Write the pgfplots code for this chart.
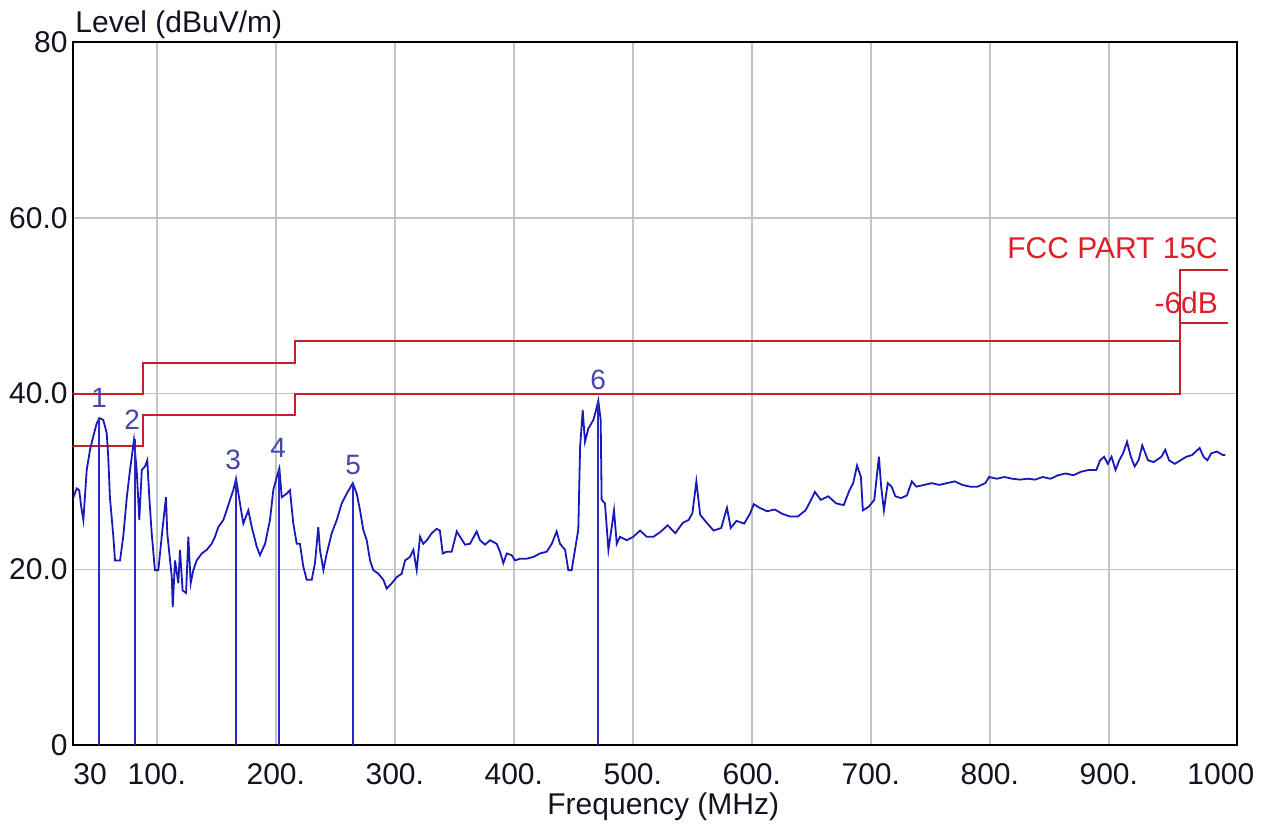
\documentclass[border=0pt]{standalone}
\usepackage{pgfplots}
\pgfplotsset{compat=1.18}
\usepackage{fontspec}
\setmainfont{Liberation Sans}
\definecolor{trace}{RGB}{25,25,185}
\definecolor{mk}{RGB}{40,40,200}
\definecolor{lim}{RGB}{195,35,40}
\definecolor{limtxt}{RGB}{225,30,40}
\definecolor{txt}{RGB}{18,18,32}
\definecolor{mklbl}{RGB}{70,70,170}
\definecolor{gridc}{RGB}{195,195,195}
\begin{document}
\begin{tikzpicture}
\path[use as bounding box] (-36.75pt,-40pt) rectangle (598.75pt,372.5pt);
\begin{axis}[
  at={(0,0)}, anchor=south west,
  scale only axis, width=581.75pt, height=351.5pt,
  xmin=30, xmax=1007.7, ymin=0, ymax=80,
  xtick={100,200,300,400,500,600,700,800,900},
  xticklabels={100.,200.,300.,400.,500.,600.,700.,800.,900.},
  extra x ticks={30,1000},
  extra x tick labels={\makebox[0pt][l]{30},\makebox[0pt]{1000\hspace{7pt}}},
  extra x tick style={grid=none},
  ytick={0,20,40,60,80},
  yticklabels={0,20.0,40.0,60.0,80},
  grid=major, major grid style={gridc, line width=0.75pt},
  major tick length=0pt,
  axis line style={black, line width=1pt},
  tick label style={font=\fontsize{15}{18}\selectfont, text=txt},
  xticklabel style={anchor=base, yshift=-20pt},
  yticklabel style={anchor=east, inner sep=0pt, xshift=-2.75pt},
  clip=false,
]
% limit lines
\addplot[lim, line width=1pt, const plot] coordinates {(30,40) (88,43.5) (216,46) (960,54) (1000,54)};
\addplot[lim, line width=1pt, const plot] coordinates {(30,34) (88,37.5) (216,40) (960,48) (1000,48)};
% trace
\addplot[trace, line width=0.9pt] coordinates {
(30,28.2) (32.7,29.2) (34.8,29.0) (36.6,27.0) (38.3,25.6) (41.1,31.3) (43.9,33.6) (46.6,35.1) (49.5,36.6) (51.7,37.2) (55.0,37.0) (57.9,35.5) (59.2,32.8) (60.6,28.2) (63.5,23.7) (64.9,21.0) (69.1,21.0) (71.8,23.7) (74.8,28.2) (77.5,31.3) (80.8,34.7) (83.1,31.3) (85.3,25.6) (87.4,31.3) (90.1,31.7) (92.0,32.4) (93.7,28.2) (95.7,24.1) (98.4,19.9) (101.3,19.9) (104.1,23.7) (107.7,28.2) (108.8,24.1) (112.6,19.1) (113.4,15.7) (115.3,21.0) (118.1,18.4) (119.5,22.2) (121.7,17.6) (124.6,17.3) (126.5,23.7) (128.5,18.4) (130.7,19.9) (133.5,21.0) (137.8,21.8) (141.9,22.2) (146.1,22.9) (148.9,23.7) (151.7,24.8) (155.9,25.6) (158.7,26.7) (161.5,27.9) (164.3,29.0) (166.6,30.3) (169.9,27.5) (172.7,25.2) (176.9,26.7) (179.8,24.8) (183.9,22.6) (186.7,21.6) (191.0,22.9) (195.1,25.6) (197.9,29.0) (200.8,30.5) (203.0,31.5) (205.0,28.2) (209.1,28.6) (211.9,29.0) (214.7,25.2) (217.6,22.9) (220.3,22.9) (223.1,20.3) (226.0,18.8) (230.2,18.8) (232.9,20.7) (235.7,24.8) (237.1,22.2) (240.0,19.9) (242.8,21.8) (247.0,24.1) (251.2,25.6) (255.4,27.5) (259.6,28.6) (264.7,29.8) (268.0,28.6) (270.8,26.7) (273.5,24.5) (276.4,23.3) (279.2,21.0) (281.9,19.9) (286.1,19.5) (290.4,18.8) (293.2,17.8) (297.4,18.4) (301.6,19.1) (305.8,19.5) (308.6,21.0) (312.7,21.4) (315.6,22.2) (318.4,19.9) (321.2,23.7) (323.9,22.9) (326.9,23.3) (331.0,24.1) (335.2,24.6) (337.9,24.4) (340.3,21.8) (343.6,22.0) (347.8,22.0) (352.1,24.3) (354.8,23.7) (359.0,22.8) (363.2,22.9) (368.8,24.3) (371.6,23.3) (375.8,22.8) (380.0,23.3) (385.6,22.9) (388.4,22.0) (391.2,20.7) (394.1,21.8) (398.2,21.6) (401.0,21.0) (405.2,21.2) (410.8,21.2) (416.4,21.4) (422.0,21.8) (427.7,22.0) (431.9,22.9) (436.0,24.3) (438.8,22.9) (443.1,22.2) (445.8,19.9) (448.6,19.9) (451.4,22.2) (454.2,24.5) (455.7,33.9) (457.9,38.1) (459.8,34.5) (462.6,36.0) (466.9,37.0) (469.1,38.1) (471.0,39.2) (473.0,37.0) (473.8,27.9) (476.6,27.5) (479.5,22.2) (482.3,24.8) (484.2,26.7) (486.5,22.9) (489.2,23.7) (494.9,23.3) (500.4,23.7) (506.1,24.4) (511.7,23.7) (517.3,23.7)
(522.8,24.2) (529.3,25.0) (535.7,24.1) (542.1,25.3) (546.9,25.6) (550.1,26.4) (553.4,30.0) (556.6,26.2) (561.4,25.4) (567.9,24.4) (574.3,24.7) (579.1,27.0) (582.3,24.7) (587.1,25.5) (593.6,25.2) (598.4,26.3) (601.6,27.4) (606.5,27.0) (612.8,26.6) (619.3,26.8) (625.7,26.3) (632.2,26.0) (638.6,26.0) (645.1,26.7) (649.8,27.9) (653.0,28.8) (657.9,27.9) (664.3,28.3) (670.8,27.5) (677.2,27.3) (682.1,29.0) (685.2,29.8) (688.4,31.8) (691.7,30.5) (693.3,26.7) (698.1,27.1) (702.9,27.9) (706.8,32.8) (708.7,29.4) (711.0,26.7) (714.2,29.8) (717.5,29.4) (720.6,28.3) (725.4,28.1) (730.3,28.4) (734.5,30.0) (738.3,29.4) (744.8,29.6) (751.2,29.8) (757.6,29.6) (764.0,29.8) (770.5,30.0) (776.9,29.6) (783.4,29.4) (789.7,29.4) (796.2,29.8) (799.4,30.5) (805.9,30.3) (812.3,30.5) (818.8,30.3) (825.2,30.2) (831.6,30.3) (838.0,30.2) (844.5,30.5) (850.9,30.3) (857.4,30.7) (863.7,30.9) (870.2,30.7) (876.6,31.1) (883.2,31.3) (889.5,31.3) (892.7,32.4) (896.0,32.8) (899.1,32.0) (902.3,32.8) (905.6,31.3) (908.8,32.4) (912.0,33.2) (915.3,34.5) (918.5,32.8) (921.7,31.7) (925.0,32.4) (928.1,34.1) (932.9,32.4) (937.7,32.2) (944.2,32.8) (947.4,33.6) (950.6,32.4) (955.4,32.0) (960.3,32.4) (965.1,32.8) (970.0,33.0) (976.3,33.8) (979.6,32.8) (982.8,32.4) (986.1,33.2) (990.8,33.4) (995.7,33.0) (998.0,33.0)
};
% markers
\addplot[ycomb, mk, line width=1pt] coordinates {(51.7,37.2) (81.7,34.8) (166.6,30.3) (203.0,31.5) (264.7,29.8) (471.0,39.2)};
\begin{scope}[every node/.style={text=mklbl, font=\fontsize{14}{16}\selectfont, inner sep=0pt}]
\node at (axis cs:51.5,39.5) {1};
\node at (axis cs:79.2,37.0) {2};
\node at (axis cs:164.1,32.4) {3};
\node at (axis cs:201.9,33.8) {4};
\node at (axis cs:264.9,31.9) {5};
\node at (axis cs:470.8,41.5) {6};
\end{scope}
\node[anchor=base east, text=limtxt, inner sep=0pt, font=\fontsize{15}{18}\selectfont] at (axis cs:992,55.4) {FCC PART 15C};
\node[anchor=base east, text=limtxt, inner sep=0pt, font=\fontsize{15}{18}\selectfont] at (axis cs:992,49.1) {-6dB};
\node[anchor=base west, text=txt, inner sep=0pt, xshift=0.75pt, yshift=5pt, font=\fontsize{15}{18}\selectfont] at (rel axis cs:0,1) {Level (dBuV/m)};
\node[anchor=base, text=txt, inner sep=0pt, xshift=4pt, yshift=-35pt, font=\fontsize{15}{18}\selectfont] at (rel axis cs:0.5,0) {Frequency (MHz)};
\end{axis}
\end{tikzpicture}
\end{document}
